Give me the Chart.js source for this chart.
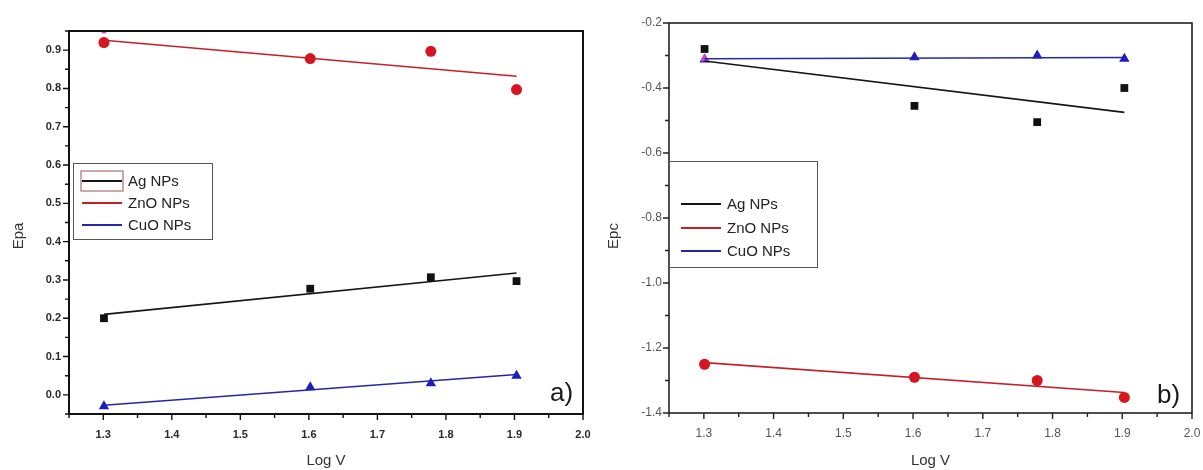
<!DOCTYPE html>
<html>
<head>
<meta charset="utf-8">
<script src="https://cdn.jsdelivr.net/npm/chart.js@4.4.1/dist/chart.umd.min.js"></script>
<style>
  body { margin: 0; background: #fff; }
  .panel { position: absolute; top: 0; }
</style>
</head>
<body>
<div class="panel" style="left:0"><canvas id="epaChart" width="600" height="470"></canvas></div>
<div class="panel" style="left:600px"><canvas id="epcChart" width="603" height="470"></canvas></div>
<script>
// log of scan rate
const logV = [1.301, 1.602, 1.778, 1.903];
const fitX = [1.301, 1.903];
const seriesNames = ["Ag NPs", "ZnO NPs", "CuO NPs"];

// anodic peak potentials
const epaAg = [0.20, 0.277, 0.307, 0.297];
const epaZnO = [0.92, 0.878, 0.897, 0.797];
const epaCuO = [-0.03, 0.02, 0.03, 0.05];
const epaAgFit = [0.21, 0.318];
const epaZnOFit = [0.926, 0.832];
const epaCuOFit = [-0.027, 0.053];
const epaExtraX = [1.301];
const epaExtra = [0.948];

// cathodic peak potentials
const epcAg = [-0.28, -0.455, -0.505, -0.40];
const epcZnO = [-1.25, -1.29, -1.30, -1.352];
const epcCuO = [-0.312, -0.305, -0.30, -0.31];
const epcAgFit = [-0.317, -0.475];
const epcZnOFit = [-1.245, -1.337];
const epcCuOFit = [-0.31, -0.306];
const epcExtraX = [1.301];
const epcExtra = [-0.31];

const xTicks = { min: 1.25, max: 2.0, step: 0.05 };

const colors = { Ag: '#111111', ZnO: '#d8141e', CuO: '#1c1cc0', extra: '#d040d8' };
const lineColors = { Ag: '#151515', ZnO: '#c42028', CuO: '#2626a8' };

const FONT = "'Liberation Sans', Arial, sans-serif";

const pts = (xs, ys) => xs.map((x, i) => ({ x: x, y: ys[i] }));

function buildDatasets(ag, zno, cuo, agFit, znoFit, cuoFit, exX, ex, exRadius) {
    const line = (data, color) => ({
        data: data, showLine: true, borderColor: color, borderWidth: 1.6,
        pointRadius: 0, fill: false
    });
    const marks = (data, color, style, r) => ({
        data: data, showLine: false, pointStyle: style, pointRadius: r,
        backgroundColor: color, borderColor: color, borderWidth: 0
    });
    return [
        line(pts(fitX, agFit), lineColors.Ag),
        line(pts(fitX, znoFit), lineColors.ZnO),
        line(pts(fitX, cuoFit), lineColors.CuO),
        marks(pts(exX, ex), colors.extra, 'triangle', exRadius),
        marks(pts(logV, ag), colors.Ag, 'rect', 5.5),
        marks(pts(logV, zno), colors.ZnO, 'circle', 5.5),
        marks(pts(logV, cuo), colors.CuO, 'triangle', 6)
    ];
}

// frame + outward major/minor tick marks, panel letter, y title, legend box
const framePlugin = {
    id: 'frame',
    afterDraw(chart, args, opts) {
        const ctx = chart.ctx;
        const a = chart.chartArea;
        ctx.save();
        ctx.strokeStyle = opts.frameColor;
        ctx.lineWidth = opts.frameWidth;
        ctx.strokeRect(a.left, a.top, a.right - a.left, a.bottom - a.top);

        ctx.lineWidth = 1.4;
        ctx.beginPath();
        chart.scales.x.ticks.forEach(t => {
            const px = chart.scales.x.getPixelForValue(t.value);
            const len = t.label !== '' ? 6 : 4;
            ctx.moveTo(px, a.bottom);
            ctx.lineTo(px, a.bottom + len);
        });
        chart.scales.y.ticks.forEach(t => {
            const py = chart.scales.y.getPixelForValue(t.value);
            const len = t.label !== '' ? 6 : 4;
            ctx.moveTo(a.left, py);
            ctx.lineTo(a.left - len, py);
        });
        ctx.stroke();

        // y axis title
        ctx.fillStyle = '#333';
        ctx.font = '15px ' + FONT;
        ctx.textAlign = 'center';
        ctx.textBaseline = 'middle';
        ctx.translate(opts.yTitle.x, opts.yTitle.y);
        ctx.rotate(-Math.PI / 2);
        ctx.fillText(opts.yTitle.text, 0, 0);
        ctx.setTransform(1, 0, 0, 1, 0, 0);

        // panel letter
        ctx.font = '26px ' + FONT;
        ctx.textAlign = 'left';
        ctx.textBaseline = 'alphabetic';
        ctx.fillStyle = '#1a1a1a';
        ctx.fillText(opts.letter.text, opts.letter.x, opts.letter.y);

        // legend
        const lg = opts.legend;
        ctx.strokeStyle = '#555';
        ctx.lineWidth = 1;
        ctx.strokeRect(lg.x + 0.5, lg.y + 0.5, lg.w, lg.h);
        ctx.font = '15px ' + FONT;
        ctx.textBaseline = 'middle';
        seriesNames.forEach((name, i) => {
            const ds = chart.data.datasets[i];
            const y = lg.rows[i];
            ctx.strokeStyle = ds.borderColor;
            ctx.lineWidth = 1.8;
            ctx.beginPath();
            ctx.moveTo(lg.x + lg.lineX, y);
            ctx.lineTo(lg.x + lg.lineX + 40, y);
            ctx.stroke();
            ctx.fillStyle = lg.textColor;
            ctx.fillText(name, lg.x + lg.lineX + 46, y + 1);
        });
        if (lg.markFirst) {
            ctx.strokeStyle = '#b07070';
            ctx.lineWidth = 1.2;
            ctx.strokeRect(lg.x + lg.lineX - 1, lg.rows[0] - 10, 42, 20);
        }
        ctx.restore();
    }
};

function makeChart(id, datasets, cfg) {
    const ctx = document.getElementById(id).getContext('2d');
    return new Chart(ctx, {
        type: 'scatter',
        data: { datasets: datasets },
        plugins: [framePlugin],
        options: {
            responsive: false,
            animation: false,
            layout: { padding: { top: cfg.top, right: cfg.right, left: 0, bottom: 0 } },
            plugins: {
                legend: { display: false },
                tooltip: { enabled: false },
                frame: cfg.frame
            },
            scales: {
                x: {
                    type: 'linear',
                    min: xTicks.min, max: xTicks.max,
                    grid: { display: false, drawTicks: false },
                    border: { display: false },
                    afterFit: s => {
                        s.height = 470 - cfg.bottom;
                        s.paddingLeft = 0;
                        s.paddingRight = 0;
                    },
                    ticks: {
                        stepSize: xTicks.step, autoSkip: false, maxRotation: 0,
                        padding: cfg.xPad,
                        color: cfg.tickColor,
                        font: cfg.tickFont,
                        callback: v => Math.abs(v * 10 - Math.round(v * 10)) < 1e-6 ? v.toFixed(1) : ''
                    },
                    title: {
                        display: true, text: 'Log V', color: '#333',
                        font: { family: FONT, size: 15 },
                        padding: { top: 0, bottom: 0 }
                    }
                },
                y: {
                    type: 'linear',
                    min: cfg.yMin, max: cfg.yMax,
                    grid: { display: false, drawTicks: false },
                    border: { display: false },
                    afterFit: s => {
                        s.width = cfg.left;
                        s.paddingTop = 0;
                        s.paddingBottom = 0;
                    },
                    ticks: {
                        stepSize: cfg.yStep, autoSkip: false,
                        padding: cfg.yPad,
                        color: cfg.tickColor,
                        font: cfg.tickFont,
                        callback: cfg.yLabel
                    }
                }
            }
        }
    });
}

makeChart('epaChart',
    buildDatasets(epaAg, epaZnO, epaCuO, epaAgFit, epaZnOFit, epaCuOFit, epaExtraX, epaExtra, 3),
    {
        top: 31, right: 17, left: 69, bottom: 414,
        yMin: -0.05, yMax: 0.95, yStep: 0.05,
        xPad: 14, yPad: 8,
        tickColor: '#2a2a2a',
        tickFont: { family: FONT, size: 11, weight: 'bold' },
        yLabel: v => {
            const n = Math.round(v * 20);
            if (n % 2 !== 0) return '';
            return Math.abs(v) < 1e-9 ? '0.0' : v.toFixed(1);
        },
        frame: {
            frameColor: '#111', frameWidth: 2,
            yTitle: { text: 'Epa', x: 19, y: 236 },
            letter: { text: 'a)', x: 550, y: 401 },
            legend: {
                x: 73, y: 163, w: 139, h: 76, lineX: 9,
                rows: [181, 203, 225], textColor: '#222', markFirst: true
            }
        }
    });

makeChart('epcChart',
    buildDatasets(epcAg, epcZnO, epcCuO, epcAgFit, epcZnOFit, epcCuOFit, epcExtraX, epcExtra, 5),
    {
        top: 23, right: 11, left: 69, bottom: 413,
        yMin: -1.4, yMax: -0.2, yStep: 0.1,
        xPad: 13, yPad: 7,
        tickColor: '#555',
        tickFont: { family: FONT, size: 12 },
        yLabel: v => {
            const n = Math.round(v * 10);
            return n % 2 === 0 ? v.toFixed(1) : '';
        },
        frame: {
            frameColor: '#222', frameWidth: 1.6,
            yTitle: { text: 'Epc', x: 14, y: 236 },
            letter: { text: 'b)', x: 557, y: 403 },
            legend: {
                x: 69, y: 161, w: 148, h: 106, lineX: 12,
                rows: [204, 228, 251], textColor: '#222', markFirst: false
            }
        }
    });
</script>
</body>
</html>
